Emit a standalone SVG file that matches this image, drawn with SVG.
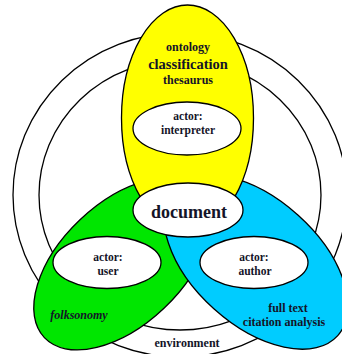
<svg xmlns="http://www.w3.org/2000/svg" width="342" height="354" viewBox="0 0 342 354">
  <style>
    .ring { fill: none; stroke: #000; stroke-width: 1.3; }
    .petal { stroke: #000; stroke-width: 1.3; }
    .actor { fill: #fff; stroke: #000; stroke-width: 1.3; }
    text { font-family: "Liberation Serif", "Times New Roman", serif; font-weight: bold; fill: #141428; text-anchor: middle; }
    .s12 { font-size: 12px; }
    .s11 { font-size: 11.5px; }
  </style>
  <rect width="342" height="354" fill="#fff"/>

  <!-- environment rings -->
  <g id="environment">
    <ellipse class="ring" cx="180" cy="195" rx="167" ry="162"/>
    <ellipse class="ring" cx="180" cy="195" rx="141" ry="135"/>
    <text class="s12" x="187" y="347">environment</text>
  </g>

  <!-- user petal -->
  <g id="user-petal">
    <ellipse class="petal" fill="#00E600" cx="0" cy="0" rx="107" ry="61" transform="translate(122,264) rotate(-43.5)"/>
    <text class="s12" x="79" y="319" font-style="italic">folksonomy</text>
  </g>

  <!-- author petal -->
  <g id="author-petal">
    <ellipse class="petal" fill="#00CCFF" cx="0" cy="0" rx="110" ry="63" transform="translate(256,262) rotate(42)"/>
    <text class="s12" x="288" y="312">full text</text>
    <text class="s12" x="284" y="326">citation analysis</text>
  </g>

  <!-- interpreter petal -->
  <g id="interpreter-petal">
    <ellipse class="petal" fill="#FFFF00" cx="187.5" cy="118" rx="66" ry="113"/>
    <text class="s12" x="188" y="51">ontology</text>
    <text x="188" y="69" font-size="14.5">classification</text>
    <text class="s12" x="188" y="84">thesaurus</text>
  </g>

  <g id="document">
    <ellipse class="actor" cx="188" cy="210" rx="55" ry="27"/>
    <text x="189" y="218" font-size="18">document</text>
  </g>

  <g id="actor-interpreter">
    <ellipse class="actor" cx="187" cy="128.5" rx="54" ry="26.5"/>
    <text class="s11" x="188" y="120">actor:</text>
    <text class="s11" x="188" y="134">interpreter</text>
  </g>

  <g id="actor-user">
    <ellipse class="actor" cx="107" cy="262.5" rx="54" ry="26"/>
    <text class="s11" x="108" y="261">actor:</text>
    <text class="s11" x="108" y="275">user</text>
  </g>

  <g id="actor-author">
    <ellipse class="actor" cx="254" cy="262.5" rx="54" ry="26"/>
    <text class="s11" x="254" y="261">actor:</text>
    <text class="s11" x="255" y="275">author</text>
  </g>
</svg>
